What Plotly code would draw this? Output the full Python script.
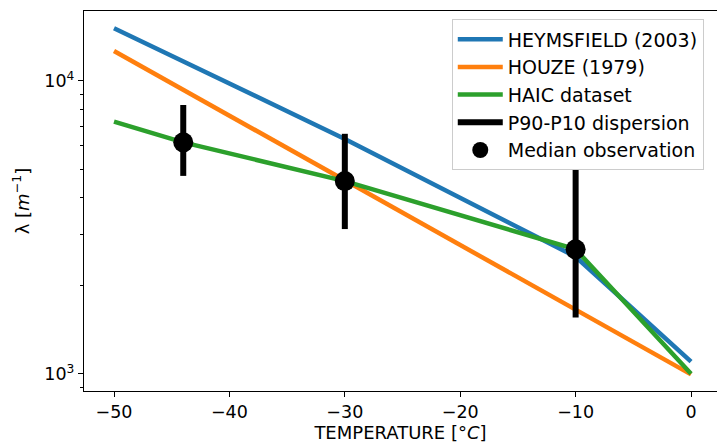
import plotly.graph_objects as go

# Data
heym_T = [-50, -30, -10, 0]
heym_lam = [15140, 6340, 2510, 1100]

houze_T = [-50, 0]
houze_lam = [12660, 995]

haic_T = [-50, -44, -30, -10, 0]
haic_lam = [7260, 6170, 4550, 2660, 1000]

obs_T = [-44, -30, -10]
obs_median = [6170, 4550, 2660]
obs_p90 = [8280, 6600, 5250]
obs_p10 = [4740, 3120, 1555]

fig = go.Figure()

fig.add_trace(go.Scatter(x=heym_T, y=heym_lam, mode="lines", name="HEYMSFIELD (2003)",
                         line=dict(color="#1f77b4", width=4.5)))
fig.add_trace(go.Scatter(x=houze_T, y=houze_lam, mode="lines", name="HOUZE (1979)",
                         line=dict(color="#ff7f0e", width=4.5)))
fig.add_trace(go.Scatter(x=haic_T, y=haic_lam, mode="lines", name="HAIC dataset",
                         line=dict(color="#2ca02c", width=4.5)))

ex, ey = [], []
for t, lo, hi in zip(obs_T, obs_p10, obs_p90):
    ex += [t, t, None]
    ey += [lo, hi, None]
fig.add_trace(go.Scatter(x=ex, y=ey, mode="lines", name="P90-P10 dispersion",
                         line=dict(color="black", width=6)))
fig.add_trace(go.Scatter(x=obs_T, y=obs_median, mode="markers", name="Median observation",
                         marker=dict(color="black", size=20)))

font = "DejaVu Sans"
fs = 18
fig.update_layout(
    width=717, height=444,
    margin=dict(l=84, r=0, t=11, b=53),
    paper_bgcolor="white", plot_bgcolor="white",
    font=dict(family=font, size=fs, color="black"),
    showlegend=True,
    legend=dict(x=0.581, y=0.978, xanchor="left", yanchor="top",
                bgcolor="white", bordercolor="#cccccc", borderwidth=1,
                font=dict(size=19, family=font), itemwidth=45,
                tracegroupgap=0),
)
fig.update_xaxes(
    range=[-52.6, 2.25], showgrid=False, zeroline=False,
    showline=True, linecolor="black", linewidth=1.2, mirror=True,
    ticks="outside", ticklen=5, tickcolor="black",
    tickvals=[-50, -40, -30, -20, -10, 0],
    ticktext=["\u221250", "\u221240", "\u221230", "\u221220", "\u221210", "0"],
    tickfont=dict(size=17.5),
    title=dict(text="TEMPERATURE [\u00b0<i>C</i>]", font=dict(size=fs), standoff=2),
)
fig.update_yaxes(
    type="log", range=[2.941, 4.239], showgrid=False, zeroline=False,
    showline=True, linecolor="black", linewidth=1.2, mirror=False,
    ticks="outside", ticklen=5, tickcolor="black",
    tickvals=[1000, 10000], ticktext=["10<sup>3</sup>", "10<sup>4</sup>"],
    tickfont=dict(size=17.5),
    minor=dict(ticks="outside", ticklen=3, tickcolor="black", showgrid=False,
               tickvals=[900, 2000, 3000, 4000, 5000, 6000, 7000, 8000, 9000]),
    title=dict(text="\u03bb [<i>m</i><sup>\u22121</sup>]", font=dict(size=fs), standoff=10),
)

fig.write_html("out.html")
